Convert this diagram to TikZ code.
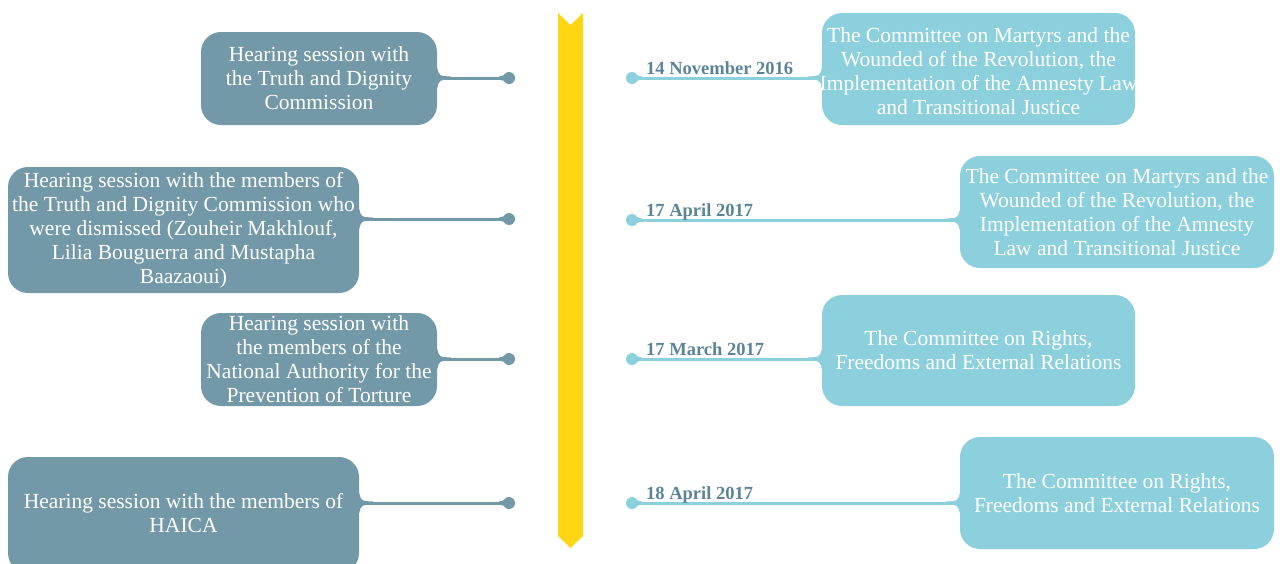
\documentclass[tikz,border=0pt]{standalone}
\usepackage{fontspec}
\setmainfont{Liberation Serif}
\definecolor{leftc}{HTML}{7399A8}
\definecolor{rightc}{HTML}{8BD0DC}
\definecolor{barc}{HTML}{FFD514}
\definecolor{datec}{HTML}{5B8499}
\tikzset{
  lbox/.style={rectangle, rounded corners=20pt, fill=leftc, text=white, inner sep=0pt, align=center,
    font=\fontsize{21.5}{24}\selectfont},
  rbox/.style={rectangle, rounded corners=20pt, fill=rightc, text=white, inner sep=0pt, align=center,
    font=\fontsize{21.5}{24}\selectfont},
  btext/.style={text=white, inner sep=0pt, align=center, font=\fontsize{21.5}{24}\selectfont},
  datel/.style={anchor=base west, text=datec, inner sep=0pt, font=\fontsize{18.5}{20}\selectfont\bfseries},
  lline/.style={draw=leftc, line width=3pt},
  rline/.style={draw=rightc, line width=3pt},
}
\begin{document}
\begin{tikzpicture}[x=1pt,y=-1pt]
\useasboundingbox (0,0) rectangle (1282,563);
% central bar
\fill[barc] (558,13) -- (570.5,25) -- (583,13) -- (583,536) -- (570.5,548) -- (558,536) -- cycle;

% left boxes
\node[lbox, minimum width=236pt, minimum height=93pt] (L1) at (319,78.5) {Hearing session with\\the Truth and Dignity\\Commission};
\node[lbox, minimum width=351pt, minimum height=126pt] (L2) at (183.5,230) {Hearing session with the members of\\the Truth and Dignity Commission who\\were dismissed (Zouheir Makhlouf,\\Lilia Bouguerra and Mustapha\\Baazaoui)};
\node[lbox, minimum width=236pt, minimum height=93pt] (L3) at (319,359.5) {Hearing session with\\the members of the\\National Authority for the\\Prevention of Torture};
\node[lbox, minimum width=351pt, minimum height=116pt] (L4) at (183.5,515) {};
\node[btext] (L4t) at (183.5,513) {Hearing session with the members of\\HAICA};

% right boxes
\node[rbox, minimum width=313pt, minimum height=112pt] (R1) at (978.5,69) {};
\node[btext] (R1t) at (978.5,71) {The Committee on Martyrs and the\\Wounded of the Revolution, the\\Implementation of the Amnesty Law\\and Transitional Justice};
\node[rbox, minimum width=314pt, minimum height=112pt] (R2) at (1117,212) {The Committee on Martyrs and the\\Wounded of the Revolution, the\\Implementation of the Amnesty\\Law and Transitional Justice};
\node[rbox, minimum width=313pt, minimum height=111pt] (R3) at (978.5,350.5) {The Committee on Rights,\\Freedoms and External Relations};
\node[rbox, minimum width=314pt, minimum height=112pt] (R4) at (1117,493) {The Committee on Rights,\\Freedoms and External Relations};

% dots
\coordinate (dL1) at (509,78);
\coordinate (dL2) at (509,219);
\coordinate (dL3) at (509,359);
\coordinate (dL4) at (509,503);
\coordinate (dR1) at (632,78);
\coordinate (dR2) at (632,220);
\coordinate (dR3) at (632,359);
\coordinate (dR4) at (632,503);

% left connectors
\foreach \n in {1,2,3,4}{
  \draw[lline] (L\n.east |- dL\n) -- (dL\n);
  \fill[leftc] (dL\n) circle (6pt);
  \fill[leftc] ([yshift=-10pt]L\n.east |- dL\n) .. controls ([xshift=2pt,yshift=-2pt]L\n.east |- dL\n) .. ([xshift=14pt,yshift=-1.5pt]L\n.east |- dL\n)
     -- ([xshift=14pt,yshift=1.5pt]L\n.east |- dL\n) .. controls ([xshift=2pt,yshift=2pt]L\n.east |- dL\n) .. ([yshift=10pt]L\n.east |- dL\n) -- cycle;
  \fill[leftc] ([xshift=-4pt,yshift=-3pt]dL\n) -- ([xshift=-10pt,yshift=-1.5pt]dL\n) -- ([xshift=-10pt,yshift=1.5pt]dL\n) -- ([xshift=-4pt,yshift=3pt]dL\n) -- cycle;
}
% right connectors
\foreach \n in {1,2,3,4}{
  \draw[rline] (dR\n) -- (R\n.west |- dR\n);
  \fill[rightc] (dR\n) circle (6pt);
  \fill[rightc] ([yshift=-10pt]R\n.west |- dR\n) .. controls ([xshift=-2pt,yshift=-2pt]R\n.west |- dR\n) .. ([xshift=-14pt,yshift=-1.5pt]R\n.west |- dR\n)
     -- ([xshift=-14pt,yshift=1.5pt]R\n.west |- dR\n) .. controls ([xshift=-2pt,yshift=2pt]R\n.west |- dR\n) .. ([yshift=10pt]R\n.west |- dR\n) -- cycle;
  \fill[rightc] ([xshift=4pt,yshift=-3pt]dR\n) -- ([xshift=10pt,yshift=-1.5pt]dR\n) -- ([xshift=10pt,yshift=1.5pt]dR\n) -- ([xshift=4pt,yshift=3pt]dR\n) -- cycle;
}

% dates
\node[datel] (D1) at (646,74) {14 November 2016};
\node[datel] (D2) at (646,216) {17 April 2017};
\node[datel] (D3) at (646,355) {17 March 2017};
\node[datel] (D4) at (646,499) {18 April 2017};
\end{tikzpicture}
\end{document}
